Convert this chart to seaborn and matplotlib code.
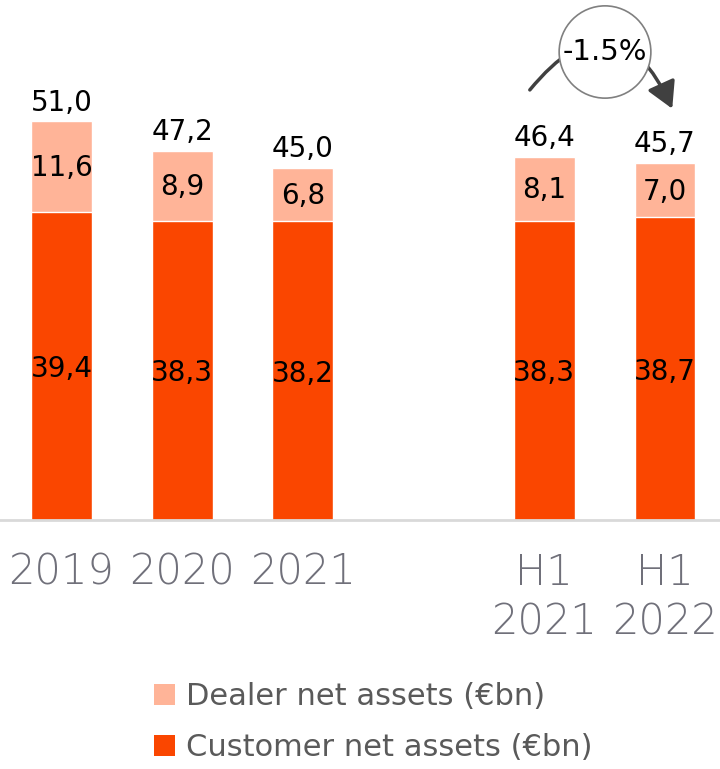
import matplotlib
matplotlib.use("Agg")
import matplotlib.pyplot as plt
import seaborn as sns
import pandas as pd
from matplotlib.patches import Ellipse, FancyArrowPatch, Patch

categories = ["2019", "2020", "2021", "H1\n2021", "H1\n2022"]
customer = [39.4, 38.3, 38.2, 38.3, 38.7]
dealer = [11.6, 8.9, 6.8, 8.1, 7.0]
totals = [51.0, 47.2, 45.0, 46.4, 45.7]
order = ["2019", "2020", "2021", " ", "H1\n2021", "H1\n2022"]
change_label = "-1.5%"

def fmt(v):
    return f"{v:.1f}".replace(".", ",")

sns.set_theme(style="white")
plt.rcParams["font.family"] = ["DejaVu Sans"]

C_CUST = "#FA4600"
C_DEAL = "#FFB498"

df = pd.DataFrame({"cat": categories, "customer": customer, "dealer": dealer, "total": totals})

fig = plt.figure(figsize=(7.2, 7.69), dpi=100)
ax = fig.add_axes([0.0, (769 - 520) / 769, 1.0, 520 / 769])

sns.barplot(data=df, x="cat", y="total", order=order, color=C_DEAL, width=0.505,
            saturation=1, ax=ax, errorbar=None)
sns.barplot(data=df, x="cat", y="customer", order=order, color=C_CUST, width=0.505,
            saturation=1, ax=ax, errorbar=None)

XMIN = -0.5095
ax.set_xlim(XMIN, XMIN + 720 / 120.7)
ax.set_ylim(0, 66.5)
ax.set_xlabel("")
ax.set_ylabel("")
ax.set_yticks([])
for s in ["top", "left", "right"]:
    ax.spines[s].set_visible(False)
ax.spines["bottom"].set_color("#d9d9d9")
ax.spines["bottom"].set_linewidth(2)

ax.tick_params(axis="x", length=0, pad=23, labelsize=30, labelcolor="#70707a")
for lab in ax.get_xticklabels():
    lab.set_verticalalignment("top")
    lab.set_linespacing(1.25)
    lab.set_fontweight("light")

pos = {c: order.index(c) for c in categories}
for c, cu, de, to in zip(categories, customer, dealer, totals):
    x = pos[c]
    ax.text(x, cu / 2 - 0.4, fmt(cu), ha="center", va="center", fontsize=20, color="black")
    ax.text(x, cu + de / 2 - 0.2, fmt(de), ha="center", va="center", fontsize=20, color="black")
    ax.text(x, to + 0.6, fmt(to), ha="center", va="bottom", fontsize=20, color="black")

# change annotation
arr = FancyArrowPatch((3.88, 55.0), (5.06, 52.6), connectionstyle="arc3,rad=-0.8",
                      arrowstyle="-|>,head_length=8,head_width=4.5", color="#404040",
                      linewidth=2.5, mutation_scale=2, zorder=4, clip_on=False,
                      shrinkA=0, shrinkB=0)
ax.add_patch(arr)
circ = Ellipse((4.503, 59.85), width=0.76, height=11.8, facecolor="white",
               edgecolor="#808080", linewidth=1.2, zorder=5, clip_on=False)
ax.add_patch(circ)
ax.text(4.503, 59.85, change_label, ha="center", va="center", fontsize=21,
        color="black", zorder=6)

handles = [Patch(facecolor=C_DEAL, edgecolor="none", label="Dealer net assets (€bn)"),
           Patch(facecolor=C_CUST, edgecolor="none", label="Customer net assets (€bn)")]
leg = fig.legend(handles=handles, loc="upper left", bbox_to_anchor=(154 / 720, 1 - 682 / 769),
                 frameon=False, fontsize=22, handlelength=0.7, handleheight=0.7,
                 handletextpad=0.35, labelspacing=0.72, borderaxespad=0, borderpad=0)
for t in leg.get_texts():
    t.set_color("#5a5a5a")

fig.savefig("out.png", dpi=100)
